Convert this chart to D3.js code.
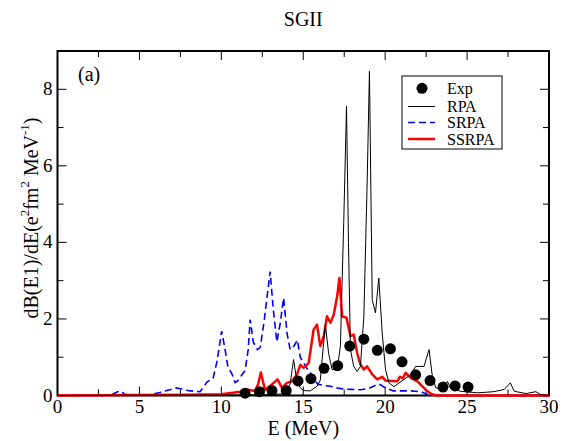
<!DOCTYPE html>
<html><head><meta charset="utf-8">
<script src="https://cdn.jsdelivr.net/npm/d3@7"></script>
<style>body{margin:0;background:#fff}svg{display:block}text{font-family:"Liberation Serif","Times New Roman",Times,serif}</style>
</head><body><svg id="c" width="571" height="441" font-family="Liberation Serif, Times New Roman, Times, serif"></svg>
<script>
const titleText = "SGII";
const xTicks = [0,5,10,15,20,25,30];
const yTicks = [0,2,4,6,8];
const seriesNames = ["Exp","RPA","SRPA","SSRPA"];

const expE = [11.45,12.33,13.09,13.96,14.68,15.47,16.27,17.10,17.84,18.70,19.52,20.32,21.03,21.86,22.74,23.53,24.27,25.06];
const expV = [0.06,0.10,0.13,0.13,0.38,0.44,0.71,0.78,1.29,1.47,1.18,1.22,0.88,0.54,0.39,0.22,0.25,0.22];

const rpaE = [0,5,10,13,13.9,14.2,14.41,14.62,14.82,15.02,15.43,15.84,16.04,16.15,16.35,16.55,16.76,17.07,17.27,17.37,17.47,17.64,17.76,17.88,18.08,18.29,18.49,18.7,18.9,19.04,19.21,19.41,19.61,19.82,20.02,20.23,20.53,21.15,21.56,21.86,22.37,22.68,22.88,23.09,23.5,23.8,24.0,24.62,25.64,26.64,27.27,27.64,27.88,28.6,29.2,29.5,30];
const rpaV = [0,0.01,0.01,0.02,0.05,0.3,0.94,0.35,0.2,0.13,0.12,0.24,0.4,0.94,1.85,1.1,0.68,0.66,1.3,2.94,4.5,7.56,4.0,1.2,0.76,0.63,0.76,2.07,5.55,8.47,2.5,2.16,3.07,1.63,0.68,0.33,0.23,0.42,0.55,0.76,0.76,1.2,0.5,0.2,0.16,0.37,0.18,0.11,0.07,0.1,0.16,0.33,0.11,0.05,0.1,0.02,0];

const srpaE = [0,2.57,3.3,3.67,3.86,4.1,4.7,5.63,6.25,6.86,7.2,7.65,8.08,8.7,9.12,9.5,9.74,10.02,10.23,10.4,10.66,10.84,11.0,11.27,11.45,11.64,11.76,11.95,12.2,12.37,12.6,12.8,12.98,13.16,13.39,13.6,13.8,14.02,14.2,14.45,14.64,14.82,15.0,15.25,15.43,15.67,15.92,16.29,16.66,17.02,17.45,17.88,18.49,18.98,19.29,19.53,19.72,20.0,20.5,20.94,21.56,22.17,22.6,23.4,30];
const srpaV = [0,0,0.02,0.1,0.12,0.03,0.02,0.02,0.08,0.15,0.2,0.17,0.12,0.1,0.35,0.45,0.9,1.68,1.2,0.75,0.55,0.34,0.38,0.55,0.65,1.2,1.98,1.4,1.2,1.25,1.9,2.6,3.24,2.3,1.4,1.9,2.55,1.6,1.2,1.3,1.45,1.0,0.86,0.7,0.6,0.4,0.29,0.26,0.24,0.2,0.17,0.16,0.15,0.18,0.24,0.29,0.28,0.2,0.12,0.12,0.12,0.1,0.02,0,0];

const ssrpaE = [0,5,8,10,11.15,11.63,12.06,12.25,12.41,12.55,12.67,13.09,13.43,13.7,14.0,14.31,14.62,14.82,15.02,15.33,15.63,15.84,16.04,16.25,16.45,16.66,16.86,17.07,17.21,17.37,17.64,17.88,18.08,18.29,18.49,18.7,18.9,19.21,19.52,19.82,20.02,20.33,20.74,20.9,21.07,21.25,21.56,21.97,22.27,22.58,22.78,23.1,30];
const ssrpaV = [0,0.01,0.02,0.03,0.1,0.15,0.12,0.3,0.6,0.35,0.15,0.29,0.42,0.2,0.33,0.37,0.55,0.8,0.72,0.85,1.72,1.85,1.29,1.55,2.07,1.9,2.11,2.59,3.07,2.07,2.03,1.55,1.59,1.11,0.81,0.68,0.76,0.55,0.42,0.49,0.39,0.38,0.37,0.49,0.45,0.59,0.46,0.37,0.24,0.11,0.05,0,0];

const svg = d3.select("#c");
const L = 57.5, R = 549, T = 51, B = 395.5;
const x = d3.scaleLinear().domain([0,30]).range([L,R]);
const y = d3.scaleLinear().domain([0,9]).range([B,T]);

// title
svg.append("text").attr("x",(L+R)/2).attr("y",26).attr("text-anchor","middle")
  .attr("font-size",20).text(titleText);

// ticks (inward, all four sides)
const g = svg.append("g");
const xMinor = d3.range(0,30.01,2.5), yMinor = d3.range(0,9.01,1);
xMinor.forEach(v=>{
  const len = (v%5===0)?9:6;
  g.append("line").attr("x1",x(v)).attr("x2",x(v)).attr("y1",B).attr("y2",B-len).attr("stroke","#000").attr("stroke-width",1);
  g.append("line").attr("x1",x(v)).attr("x2",x(v)).attr("y1",T).attr("y2",T+len).attr("stroke","#000").attr("stroke-width",1);
});
yMinor.forEach(v=>{
  const len = (v%2===0)?9:6;
  g.append("line").attr("y1",y(v)).attr("y2",y(v)).attr("x1",L).attr("x2",L+len).attr("stroke","#000").attr("stroke-width",1);
  g.append("line").attr("y1",y(v)).attr("y2",y(v)).attr("x1",R).attr("x2",R-len).attr("stroke","#000").attr("stroke-width",1);
});
// tick labels
xTicks.forEach(v=>{
  svg.append("text").attr("x",x(v)).attr("y",B+17).attr("text-anchor","middle").attr("font-size",19).text(v);
});
yTicks.forEach(v=>{
  svg.append("text").attr("x",L-5).attr("y",y(v)+6).attr("text-anchor","end").attr("font-size",19).text(v);
});

// frame
svg.append("rect").attr("x",L).attr("y",T).attr("width",R-L).attr("height",B-T)
  .attr("fill","none").attr("stroke","#000").attr("stroke-width",2);

// axis labels
svg.append("text").attr("x",(L+R)/2).attr("y",435).attr("text-anchor","middle").attr("font-size",20).text("E (MeV)");
const yl = svg.append("text").attr("transform","translate(38,218) rotate(-90)").attr("text-anchor","middle").attr("font-size",20);
yl.append("tspan").text("dB(E1)/dE(e");
yl.append("tspan").attr("font-size",13).attr("dy",-9).text("2");
yl.append("tspan").attr("dy",9).text("fm");
yl.append("tspan").attr("font-size",13).attr("dy",-9).text("2");
yl.append("tspan").attr("dy",9).text(" MeV");
yl.append("tspan").attr("font-size",13).attr("dy",-9).text("-1");
yl.append("tspan").attr("dy",9).text(")");

// (a)
svg.append("text").attr("x",78).attr("y",81).attr("font-size",20).text("(a)");

// curves
svg.append("clipPath").attr("id","cp").append("rect").attr("x",L).attr("y",T).attr("width",R-L).attr("height",B-T+2);
const line = d3.line().x(d=>x(d[0])).y(d=>y(d[1]));
const zip = (a,b)=>a.map((v,i)=>[v,b[i]]);
const plot = svg.append("g").attr("clip-path","url(#cp)");
plot.append("path").attr("d",line(zip(srpaE,srpaV))).attr("fill","none").attr("stroke","#0000ff").attr("stroke-width",1.6).attr("stroke-dasharray","7,4");
plot.append("path").attr("d",line(zip(ssrpaE,ssrpaV))).attr("fill","none").attr("stroke","#ff0000").attr("stroke-width",2.5).attr("stroke-linejoin","round");
plot.append("path").attr("d",line(zip(rpaE,rpaV))).attr("fill","none").attr("stroke","#000").attr("stroke-width",1);
svg.append("g").selectAll("circle").data(zip(expE,expV)).join("circle")
  .attr("cx",d=>x(d[0])).attr("cy",d=>y(d[1])).attr("r",5.5).attr("fill","#000");

// legend
const lg = svg.append("g");
lg.append("rect").attr("x",402).attr("y",76).attr("width",100).attr("height",73).attr("fill","#fff").attr("stroke","#000").attr("stroke-width",1);
const ly = [88.3,106.5,122.5,139];
lg.append("circle").attr("cx",422).attr("cy",ly[0]).attr("r",5.5).attr("fill","#000");
lg.append("line").attr("x1",408).attr("x2",435).attr("y1",ly[1]).attr("y2",ly[1]).attr("stroke","#000").attr("stroke-width",1);
lg.append("line").attr("x1",408).attr("x2",435).attr("y1",ly[2]).attr("y2",ly[2]).attr("stroke","#0000ff").attr("stroke-width",1.6).attr("stroke-dasharray","7,4");
lg.append("line").attr("x1",408).attr("x2",435).attr("y1",ly[3]).attr("y2",ly[3]).attr("stroke","#ff0000").attr("stroke-width",2.5);
seriesNames.forEach((n,i)=>{
  lg.append("text").attr("x",447).attr("y",ly[i]+5.5).attr("font-size",16).text(n);
});
</script></body></html>
